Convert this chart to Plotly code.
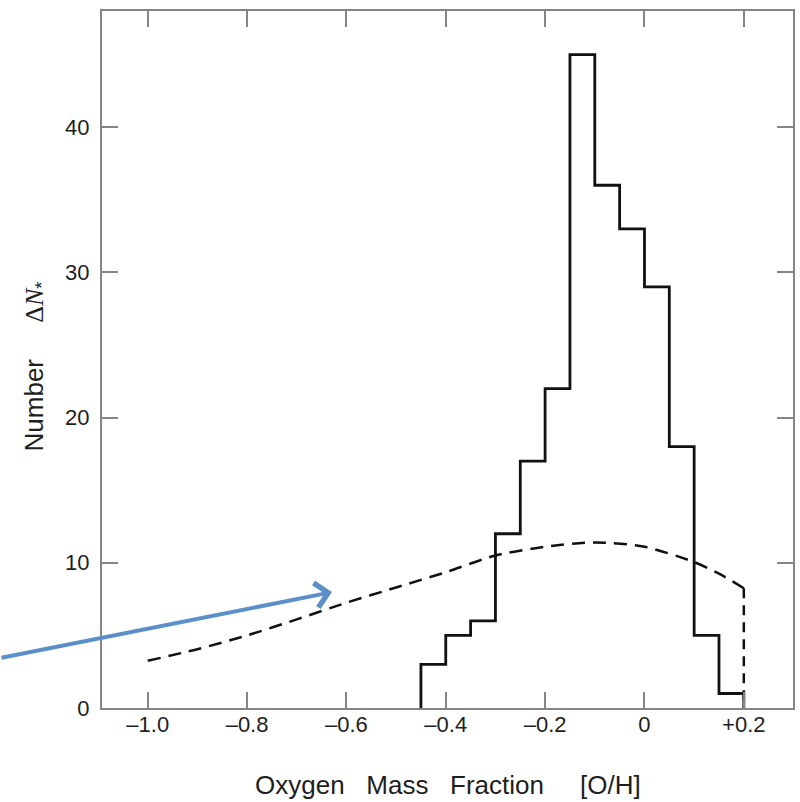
import plotly.graph_objects as go

# Histogram of stellar oxygen abundance, bins of 0.05 dex
bin_edges = [-0.45, -0.40, -0.35, -0.30, -0.25, -0.20, -0.15,
             -0.10, -0.05, 0.00, 0.05, 0.10, 0.15, 0.20]
bin_counts = [3, 5, 6, 12, 17, 22, 45, 36, 33, 29, 18, 5, 1]

# Model prediction (dashed curve)
model_x = [-1.0, -0.9, -0.8, -0.7, -0.6, -0.5, -0.4, -0.3, -0.2, -0.1, 0.0, 0.1, 0.15, 0.2]
model_y = [3.25, 4.05, 5.0, 6.1, 7.25, 8.3, 9.35, 10.5, 11.1, 11.4, 11.1, 10.05, 9.25, 8.25]

x_ticks = [-1.0, -0.8, -0.6, -0.4, -0.2, 0.0, 0.2]
x_tick_text = ["\u20131.0", "\u20130.8", "\u20130.6", "\u20130.4", "\u20130.2", "0", "+0.2"]
y_ticks = [0, 10, 20, 30, 40]

FONT = "Liberation Sans, Arial, sans-serif"
AXIS_GRAY = "#858585"
TEXT = "#1e1e1e"
NB = "\u00a0"

# step outline: up from zero at the first edge, down to zero at the last edge
step_x = bin_edges + [bin_edges[-1]]
step_y = [0] + bin_counts + [0]

fig = go.Figure()

fig.add_trace(go.Scatter(
    x=model_x, y=model_y, mode="lines",
    line=dict(color="#111111", width=2.5, dash="13px,8px", shape="spline", smoothing=0.8),
    hoverinfo="skip", showlegend=False,
))
fig.add_trace(go.Scatter(
    x=[model_x[-1], model_x[-1]], y=[model_y[-1], 0], mode="lines",
    line=dict(color="#111111", width=2.5, dash="10px,7px"),
    hoverinfo="skip", showlegend=False,
))
fig.add_trace(go.Scatter(
    x=step_x, y=step_y, mode="lines",
    line=dict(color="#111111", width=2.8, shape="vh"),
    hoverinfo="skip", showlegend=False,
))

axis_common = dict(
    showline=True, linecolor=AXIS_GRAY, linewidth=2, mirror="ticks",
    ticks="inside", ticklen=16, tickwidth=2, tickcolor=AXIS_GRAY,
    showgrid=False, zeroline=False,
    tickfont=dict(family=FONT, size=22, color=TEXT),
)

fig.update_xaxes(range=[-1.092, 0.299], tickvals=x_ticks, ticktext=x_tick_text,
                 ticklabelstandoff=-4, **axis_common)
fig.update_yaxes(range=[0, 48], tickvals=y_ticks, ticklabelstandoff=6, **axis_common)

fig.add_annotation(
    xref="paper", yref="paper", x=0.5, y=-0.110,
    text=f"Oxygen{NB*3}Mass{NB*3}Fraction{NB*5}[O/H]",
    showarrow=False, xanchor="center", yanchor="middle",
    font=dict(family=FONT, size=26, color=TEXT),
)
fig.add_annotation(
    xref="paper", yref="paper", x=-0.097, y=0.49,
    text=(f"Number{NB*5}"
          "<span style='font-family:Liberation Serif'>\u0394<i>N</i></span><sub>*</sub>"),
    showarrow=False, textangle=-90, xanchor="center", yanchor="middle",
    font=dict(family=FONT, size=26, color=TEXT),
)

# pointer arrow toward the model curve
fig.add_annotation(
    x=-0.629, y=7.98, xref="x", yref="y",
    ax=-333, ay=66, axref="pixel", ayref="pixel",
    text="", showarrow=True, arrowhead=4, arrowsize=1.2,
    arrowwidth=4, arrowcolor="#5b8fc9", standoff=0,
)

fig.update_layout(
    width=800, height=802,
    margin=dict(l=102, r=5, t=11, b=94),
    paper_bgcolor="white", plot_bgcolor="white",
    showlegend=False,
)

fig.write_html("out.html")
